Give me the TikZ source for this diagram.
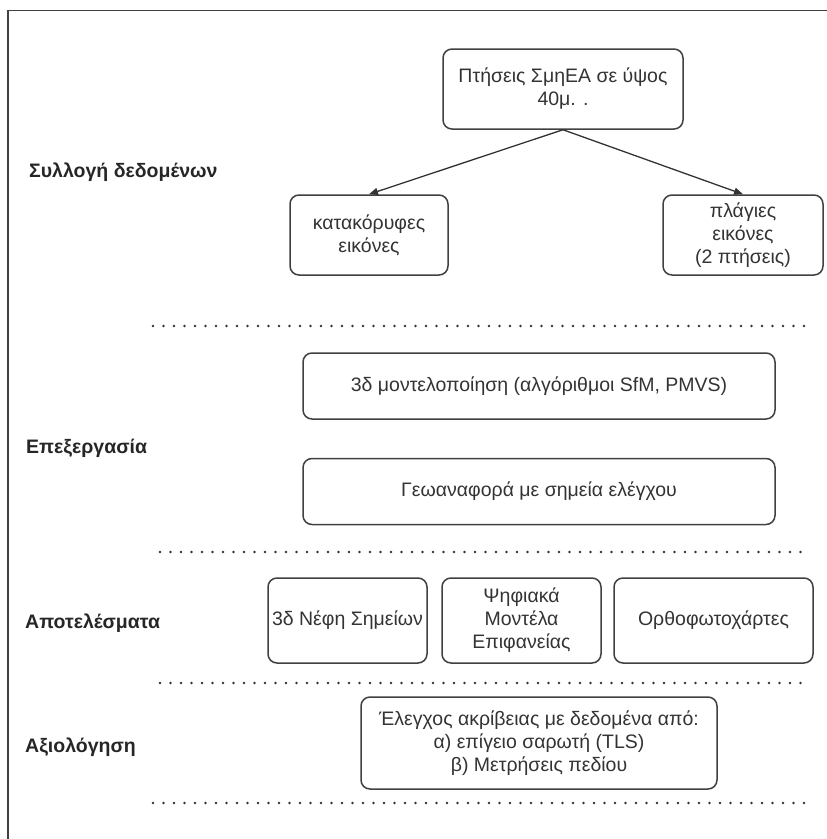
\documentclass[tikz,border=0pt]{standalone}
\usepackage{fontspec}
\setmainfont{Liberation Sans}
\usetikzlibrary{arrows.meta}
\begin{document}
\begin{tikzpicture}[x=1pt,y=-1pt,
		box/.style={draw=black!75, line width=1.5pt, rounded corners=9pt, align=center, inner sep=0pt, text=black!80, font=\fontsize{19.5}{23}\selectfont},
		lbl/.style={anchor=west, inner sep=0pt, text=black!85, font=\fontsize{19.5}{23}\selectfont\bfseries},
		sep/.style={draw=black!80, line width=2.8pt, line cap=round, dash pattern=on 0pt off 10.5pt},
		arr/.style={draw=black!80, line width=1.3pt, -{Triangle[length=9pt,width=7pt]}}]
	\useasboundingbox (0,0) rectangle (827,839);
	\draw[black!75, line width=1.3pt] (8,839) -- (8,10.5) -- (827,10.5);
	% data collection
	\node[lbl] (collect) at (29,172) {Συλλογή δεδομένων};
	\node[box, minimum width=240, minimum height=80] (flights) at (563,89) {Πτήσεις ΣμηΕΑ σε ύψος\\40μ. .};
	\node[box, minimum width=158, minimum height=80] (vert) at (369,235) {κατακόρυφες\\εικόνες};
	\node[box, minimum width=160, minimum height=80] (obl) at (743,235) {πλάγιες\\εικόνες\\(2 πτήσεις)};
	\draw[arr] (flights.south) -- (vert.north);
	\draw[arr] (flights.south) -- (obl.north);
	% processing
	\node[lbl] (process) at (26,448) {Επεξεργασία};
	\node[box, minimum width=472, minimum height=66] (model) at (539,386) {3δ μοντελοποίηση (αλγόριθμοι SfM, PMVS)};
	\node[box, minimum width=472, minimum height=66] (georef) at (539,491.5) {Γεωαναφορά με σημεία ελέγχου};
	% results
	\node[lbl] (results) at (25,623) {Αποτελέσματα};
	\node[box, minimum width=159, minimum height=85] (clouds) at (347.5,620.5) {3δ Νέφη Σημείων};
	\node[box, minimum width=159, minimum height=85] (dsm) at (521.5,620.5) {Ψηφιακά\\Μοντέλα\\Επιφανείας};
	\node[box, minimum width=199, minimum height=85] (ortho) at (713.5,620.5) {Ορθοφωτοχάρτες};
	% evaluation
	\node[lbl] (assess) at (25,747) {Αξιολόγηση};
	\node[box, minimum width=356, minimum height=92] (accuracy) at (539,743) {Έλεγχος ακρίβειας με δεδομένα από:\\α) επίγειο σαρωτή (TLS)\\β) Μετρήσεις πεδίου};
	\foreach \y/\a in {326/153,552/160,683/160,803/153}
		\draw[sep] (\a,\y) -- (808,\y);
\end{tikzpicture}
\end{document}
